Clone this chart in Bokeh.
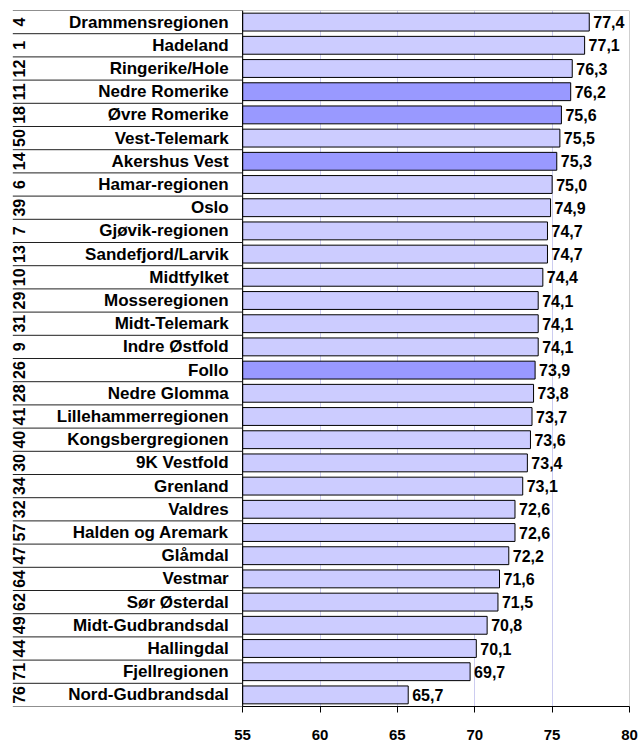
import math
from bokeh.plotting import figure
from bokeh.models import ColumnDataSource, FixedTicker, Range1d
from bokeh.core.properties import value
from bokeh.embed import file_html
from bokeh.resources import INLINE

# ---- data ----
ranks = [4, 1, 12, 11, 18, 50, 14, 6, 39, 7, 13, 10, 29, 31, 9, 26, 28, 41, 40, 30,
         34, 32, 57, 47, 64, 62, 49, 44, 71, 76]
regions = ["Drammensregionen", "Hadeland", "Ringerike/Hole", "Nedre Romerike",
           "Øvre Romerike", "Vest-Telemark", "Akershus Vest", "Hamar-regionen", "Oslo",
           "Gjøvik-regionen", "Sandefjord/Larvik", "Midtfylket", "Mosseregionen",
           "Midt-Telemark", "Indre Østfold", "Follo", "Nedre Glomma",
           "Lillehammerregionen", "Kongsbergregionen", "9K Vestfold", "Grenland",
           "Valdres", "Halden og Aremark", "Glåmdal", "Vestmar", "Sør Østerdal",
           "Midt-Gudbrandsdal", "Hallingdal", "Fjellregionen", "Nord-Gudbrandsdal"]
values = [77.4, 77.1, 76.3, 76.2, 75.6, 75.5, 75.3, 75.0, 74.9, 74.7, 74.7, 74.4,
          74.1, 74.1, 74.1, 73.9, 73.8, 73.7, 73.6, 73.4, 73.1, 72.6, 72.6, 72.2,
          71.6, 71.5, 70.8, 70.1, 69.7, 65.7]
highlight = ["Nedre Romerike", "Øvre Romerike", "Akershus Vest", "Follo"]
x_ticks = [55, 60, 65, 70, 75, 80]

# ---- layout ----
AX_MIN, AX_MAX = 55, 80
X_START = 40.0
n = len(regions)
ys = [n - 1 - i for i in range(n)]
FONT = value("Liberation Sans")

src = ColumnDataSource(dict(
    y=ys,
    val=values,
    base=[AX_MIN] * n,
    lab=[f"{v:.1f}".replace(".", ",") for v in values],
    name=regions,
    rank=[str(r) for r in ranks],
    color=["#9999ff" if r in highlight else "#ccccff" for r in regions],
))

p = figure(width=639, height=742, output_backend="svg", toolbar_location=None,
           x_range=Range1d(X_START, AX_MAX), y_range=Range1d(-0.5, n - 0.5),
           min_border_left=10, min_border_right=10, min_border_top=10, min_border_bottom=10)
p.outline_line_color = None
p.yaxis.visible = False
p.ygrid.visible = False

p.xgrid.ticker = FixedTicker(ticks=x_ticks)
p.xgrid.grid_line_color = "#ccccf0"
p.xgrid.grid_line_width = 1

ax = p.xaxis[0]
ax.ticker = FixedTicker(ticks=x_ticks)
ax.bounds = (AX_MIN, AX_MAX)
ax.axis_line_color = "black"
ax.major_tick_line_color = "black"
ax.major_tick_in = 0
ax.major_tick_out = 6
ax.minor_tick_line_color = None
ax.major_label_standoff = 17
ax.major_label_text_font = "Liberation Sans"
ax.major_label_text_font_style = "bold"
ax.major_label_text_font_size = "15px"
ax.major_label_text_color = "black"

# plot-area border (gray)
p.quad(left=[AX_MIN], right=[AX_MAX], bottom=[-0.5], top=[n - 0.5],
       fill_color=None, line_color="#a0a0a0", line_width=1)

# bars
p.hbar(y="y", left="base", right="val", height=0.77, fill_color="color",
       line_color="black", line_width=1, source=src)

# vertical axis line at 55
p.segment(x0=[AX_MIN], x1=[AX_MIN], y0=[-0.5], y1=[n - 0.5], line_color="black", line_width=1)

# row separators in label area
bounds = [k - 0.5 for k in range(n + 1)]
p.segment(x0=[X_START + 0.15] * len(bounds), x1=[AX_MIN] * len(bounds), y0=bounds, y1=bounds,
          line_color="#202020", line_width=1)

# value labels
p.text(x="val", y="y", text="lab", source=src, x_offset=4, text_font=FONT,
       text_font_style="bold", text_font_size="16px", text_align="left",
       text_baseline="middle", text_color="black")

# region names
p.text(x=[54.1] * n, y=ys, text=regions, text_font=FONT, text_font_style="bold",
       text_font_size="17px", text_align="right", text_baseline="middle", text_color="black")

# rank numbers (rotated)
p.text(x=[40.55] * n, y=ys, text=[str(r) for r in ranks], angle=math.pi / 2,
       text_font=FONT, text_font_style="bold", text_font_size="16px",
       text_align="center", text_baseline="middle", text_color="black")

open("out.html", "w").write(file_html(p, INLINE))
